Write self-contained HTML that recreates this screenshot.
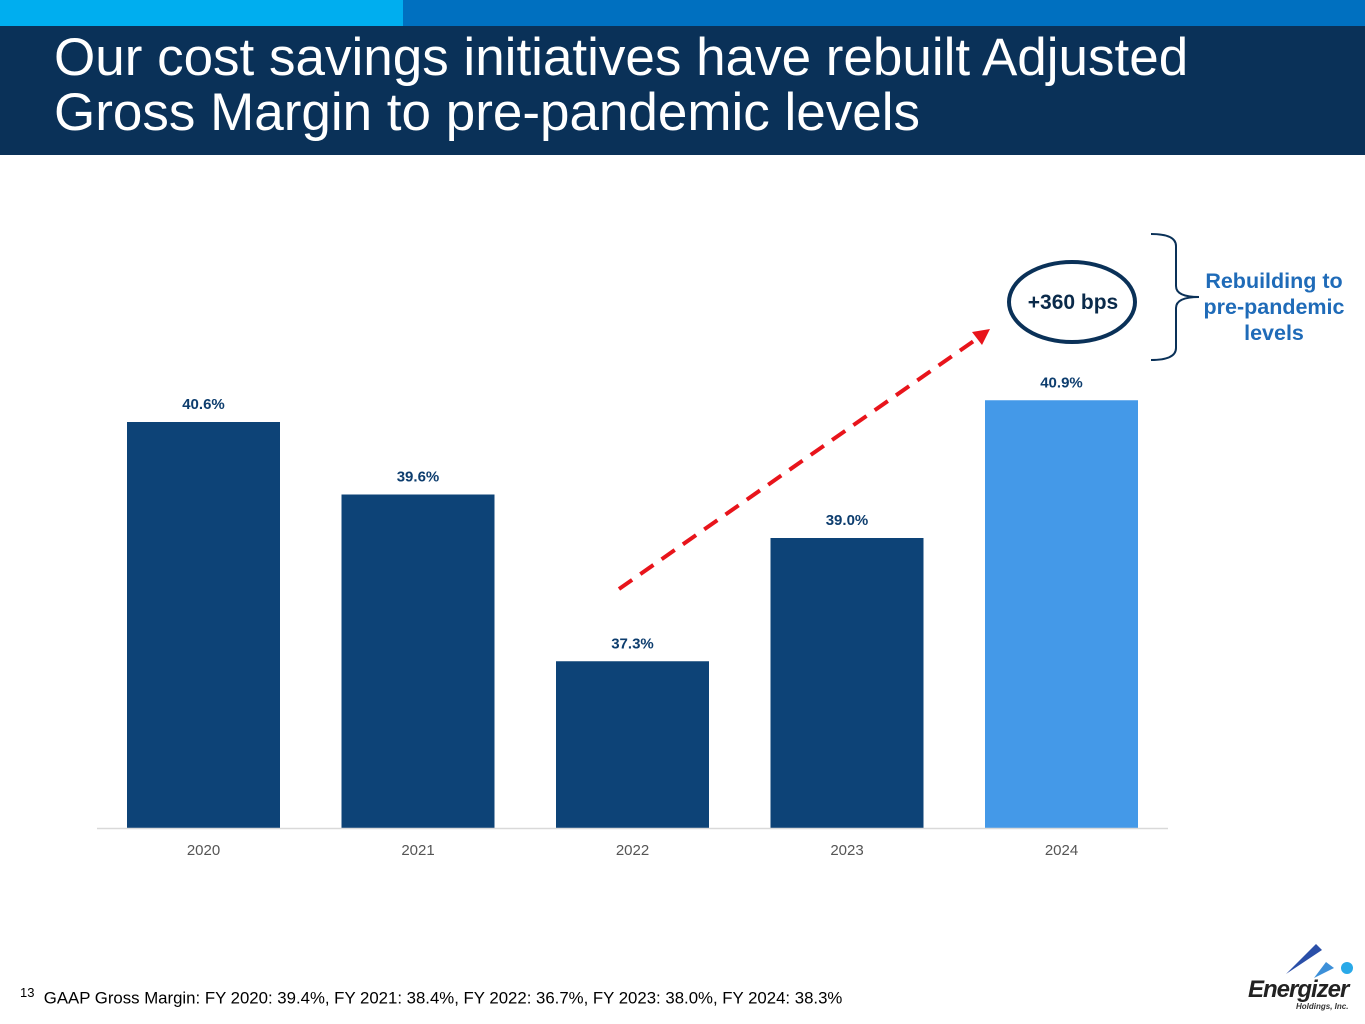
<!DOCTYPE html>
<html><head><meta charset="utf-8"><style>
body{margin:0;width:1365px;height:1024px;background:#fff;overflow:hidden;font-family:"Liberation Sans",Arial,sans-serif;position:relative}
</style></head><body>
<div style="position:absolute;left:0;top:0;width:403px;height:26px;background:#00aeef"></div>
<div style="position:absolute;left:403px;top:0;width:962px;height:26px;background:#0070c0"></div>
<div style="position:absolute;left:0;top:26px;width:1365px;height:129px;background:#0a3158"></div>
<div style="position:absolute;left:54px;top:30px;color:#fff;font-size:53px;line-height:55px">Our cost savings initiatives have rebuilt Adjusted<br>Gross Margin to pre-pandemic levels</div>
<svg id="chart" width="1365" height="1024" style="position:absolute;left:0;top:0" font-family="Liberation Sans, Arial, sans-serif"></svg>
<div style="position:absolute;left:20px;top:985px;font-size:16.8px;color:#000"><sup style="font-size:13px">13</sup>&nbsp; GAAP Gross Margin: FY 2020: 39.4%, FY 2021: 38.4%, FY 2022: 36.7%, FY 2023: 38.0%, FY 2024: 38.3%</div>
<div style="position:absolute;left:1246px;top:934px;width:115px;height:80px">
<svg width="115" height="80"><polygon points="40,40 70,10 76,16" fill="#2a4fa8"/><polygon points="68,44 80,28 88,34" fill="#3c8fd8"/><circle cx="101" cy="34" r="6" fill="#29a9e8"/></svg>
<div style="position:absolute;left:2px;top:42px;font-size:24px;font-weight:bold;font-style:italic;color:#222;letter-spacing:-1px">Energizer</div>
<div style="position:absolute;left:50px;top:68px;font-size:8px;font-style:italic;font-weight:bold;color:#333">Holdings, Inc.</div>
</div>
<script>
const categories=["2020","2021","2022","2023","2024"];
const values=[40.6,39.6,37.3,39.0,40.9];
const valueLabels=["40.6%","39.6%","37.3%","39.0%","40.9%"];
const svg=document.getElementById('chart');
const NS='http://www.w3.org/2000/svg';
const yMin=35,yBase=828,pxPer=72.5;
function y(v){return yBase-(v-yMin)*pxPer;}
function x(i){return 127+i*214.5;}
const bw=153;
function mk(t,a){const e=document.createElementNS(NS,t);for(const k in a)e.setAttribute(k,a[k]);svg.appendChild(e);return e;}
values.forEach((v,i)=>{
 const r=mk('rect',{x:x(i),y:y(v),width:bw,height:yBase-y(v),fill:i===4?'#4499e8':'#0d4377'});
 
 
 const t=mk('text',{x:x(i)+bw/2,y:y(v)-13,'text-anchor':'middle','font-size':15,'font-weight':'bold',fill:'#0d3d6e'});
 t.textContent=valueLabels[i];
 
 
 const c=mk('text',{x:x(i)+bw/2,y:855,'text-anchor':'middle','font-size':15,fill:'#555'});
 c.textContent=categories[i];
 
 
});
const ax=mk('line',{x1:97,x2:1168,y1:828.5,y2:828.5,stroke:'#d9d9d9','stroke-width':1.5});


const ar=mk('line',{x1:619,y1:589,x2:978,y2:338,stroke:'#e8141b','stroke-width':4,'stroke-dasharray':'16,10'});


const ah=mk('polygon',{points:'990,329 972,332 982,345',fill:'#e8141b'});


const el=mk('ellipse',{cx:1072,cy:302,rx:63,ry:40,fill:'none',stroke:'#0a3158','stroke-width':4});


const bt=mk('text',{x:1073,y:309,'text-anchor':'middle','font-size':21,'font-weight':'bold',fill:'#0a2a4a'});
bt.textContent='+360 bps';


const br=mk('path',{d:'M1151,234 Q1176,234 1176,246 L1176,286 Q1176,297 1199,297 Q1176,297 1176,308 L1176,348 Q1176,360 1151,360',fill:'none',stroke:'#0a3158','stroke-width':2});


["Rebuilding to","pre-pandemic","levels"].forEach((s,i)=>{
 const t=mk('text',{x:1274,y:288+i*26,'text-anchor':'middle','font-size':21.5,'font-weight':'bold',fill:'#1f6bb8'});
 t.textContent=s;
 
 
});
</script>
</body></html>
